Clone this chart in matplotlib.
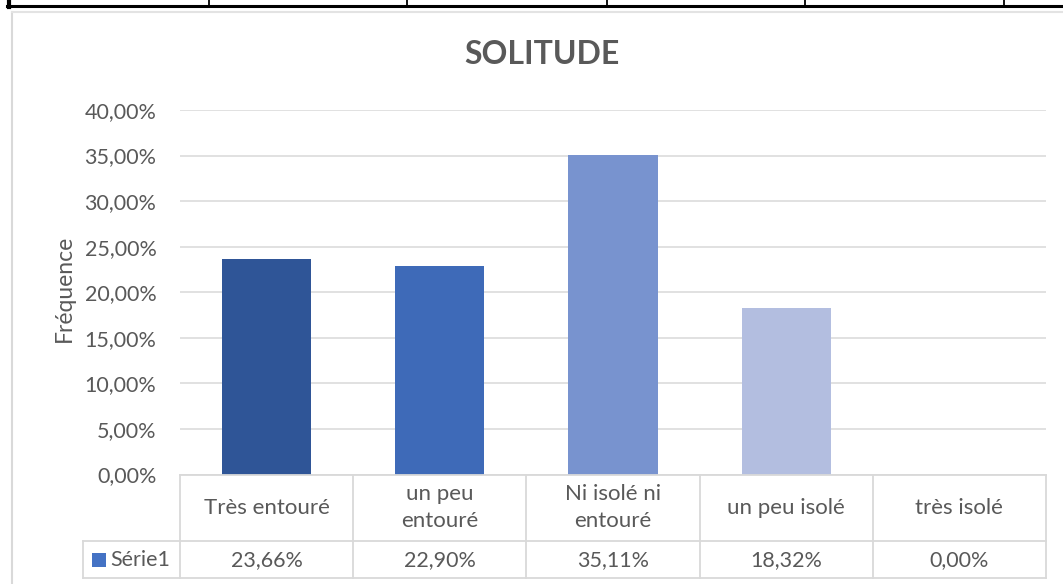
import matplotlib
matplotlib.use("Agg")
import matplotlib.pyplot as plt
from matplotlib.lines import Line2D
from matplotlib.patches import Rectangle
from matplotlib.transforms import blended_transform_factory

# ---- data ----
title = "SOLITUDE"
ylabel = "Fréquence"
categories = ["Très entouré", "un peu\nentouré", "Ni isolé ni\nentouré", "un peu isolé", "très isolé"]
values = [23.66, 22.90, 35.11, 18.32, 0.00]
value_labels = ["23,66%", "22,90%", "35,11%", "18,32%", "0,00%"]
series_name = "Série1"
yticks = [0, 5, 10, 15, 20, 25, 30, 35, 40]
ytick_labels = ["0,00%", "5,00%", "10,00%", "15,00%", "20,00%", "25,00%", "30,00%", "35,00%", "40,00%"]
bar_colors = ["#2F5597", "#3E6AB8", "#7893CF", "#B3BEE0", "#D5DBEF"]

W, H = 1063, 584
FONT = ["Lato", "DejaVu Sans"]
TXT = "#595959"
GRID = "#D9D9D9"
FS = 15.5
plt.rcParams["font.family"] = FONT

fig = plt.figure(figsize=(W / 100, H / 100), dpi=100)

def fx(x):
    return x / W

def fy(y):
    return 1 - y / H

ax_left, ax_right, ax_top, ax_bot = 180, 1046, 110, 474.5
ax = fig.add_axes([fx(ax_left), fy(ax_bot), fx(ax_right - ax_left), (ax_bot - ax_top) / H])

x = list(range(len(categories)))
ax.bar(x, values, width=0.515, color=bar_colors, zorder=3)
ax.set_xlim(-0.5, len(categories) - 0.5)
ax.set_ylim(0, 40)
ax.set_yticks(yticks)
ax.set_yticklabels(ytick_labels, color=TXT, fontsize=FS)
ax.set_xticks([])
ax.tick_params(axis="y", length=0, pad=17)
ax.grid(axis="y", color=GRID, linewidth=1.1, zorder=0)
for s in ax.spines.values():
    s.set_visible(False)

fig.text(fx(64), fy(288), ylabel, rotation=90, ha="center", va="center",
         color=TXT, fontsize=16.5)

# ---- title ----
fig.text(fx(542), fy(55), title, ha="center", va="center", fontsize=23,
         fontweight="bold", color=TXT)

# ---- data table ----
tr = blended_transform_factory(ax.transData, fig.transFigure)
row1_top, row2_top, row2_bot = 474.5, 540.7, 578
lw = 1.3
fig.add_artist(Line2D([-0.5, len(categories) - 0.5], [fy(row1_top)] * 2, transform=tr, color=GRID, lw=lw))
for yy in (row2_top, row2_bot):
    fig.add_artist(Line2D([fx(83), fx(ax_right)], [fy(yy)] * 2, transform=fig.transFigure, color=GRID, lw=lw))
for i in range(len(categories) + 1):
    fig.add_artist(Line2D([i - 0.5, i - 0.5], [fy(row1_top), fy(row2_bot)], transform=tr, color=GRID, lw=lw))
fig.add_artist(Line2D([fx(83), fx(83)], [fy(row2_top), fy(row2_bot)], transform=fig.transFigure, color=GRID, lw=lw))

for i, (c, v) in enumerate(zip(categories, value_labels)):
    fig.text(i, fy(507.5), c, transform=tr, ha="center", va="center", fontsize=FS + 0.5,
             color=TXT, linespacing=1.38)
    fig.text(i, fy(560), v, transform=tr, ha="center", va="center", fontsize=FS, color=TXT)

fig.add_artist(Rectangle((fx(92), fy(567)), fx(14), 14 / H, transform=fig.transFigure,
                         facecolor="#4472C4", edgecolor="none"))
fig.text(fx(110), fy(560), series_name, ha="left", va="center", fontsize=FS, color=TXT)

# ---- chart-area border and outer table lines ----
fig.add_artist(Line2D([fx(12), fx(12)], [fy(12), 0], transform=fig.transFigure, color=GRID, lw=1.5))
fig.add_artist(Line2D([fx(12), 1], [fy(12), fy(12)], transform=fig.transFigure, color="#E3E3E3", lw=1.5))
fig.add_artist(Line2D([fx(7), 1], [fy(6.3), fy(6.3)], transform=fig.transFigure, color="black", lw=2.2))
fig.add_artist(Line2D([fx(9), fx(9)], [1, fy(7.3)], transform=fig.transFigure, color="black", lw=3))
for xv in (209, 407, 607, 805, 1004):
    fig.add_artist(Line2D([fx(xv), fx(xv)], [1, fy(6)], transform=fig.transFigure, color="black", lw=1.3))

fig.savefig("out.png", dpi=100)
